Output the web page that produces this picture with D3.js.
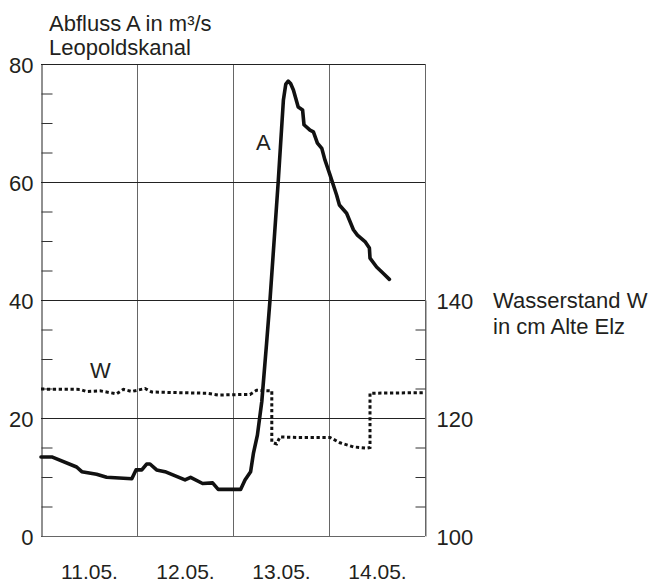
<!DOCTYPE html>
<html>
<head>
<meta charset="utf-8">
<script src="https://cdn.jsdelivr.net/npm/d3@7/dist/d3.min.js"></script>
<style>
  html, body { margin: 0; padding: 0; background: #fff; }
  svg text { font-family: "Liberation Sans", Arial, sans-serif; fill: #231f20; }
</style>
</head>
<body>
<svg id="chart" width="651" height="583"></svg>
<script>
// ---- data ----
// time in hours from start of 11.05.
const aHours  = [0, 2.7, 8.9, 10.2, 13.9, 16.4, 22.7, 23.75, 25.2, 26.4, 27.25, 28.9, 31, 36, 37.4, 40.4, 42.9, 44.3, 49.9, 51, 52.4, 53.1, 54.1, 55.2, 56.4, 57.25, 59.3, 60.6, 61.2, 61.8, 62.4, 63.1, 64.3, 65.4, 65.75, 67.25, 68.1, 69.1, 70.2, 71, 72.25, 73.9, 74.6, 76.4, 78.1, 79.1, 81, 82.1, 82.25, 83.9, 85.6, 87.1];
const aValues = [13.4, 13.4, 11.7, 10.9, 10.45, 9.95, 9.7, 11.2, 11.2, 12.2, 12.2, 11.2, 10.9, 9.5, 9.95, 8.9, 9.0, 7.9, 7.9, 9.5, 10.9, 14.0, 17.1, 22.8, 32.7, 40, 60, 73.9, 76.6, 77.1, 76.7, 75.6, 72.7, 72.2, 69.7, 68.8, 68.5, 66.6, 65.7, 63.7, 61.2, 57.8, 56.1, 54.7, 51.9, 51.0, 49.9, 48.8, 47.1, 45.6, 44.5, 43.5];

const wHours  = [0, 9.75, 11.4, 14.75, 18.9, 20.6, 22.7, 26, 27.7, 41.4, 44.3, 52.25, 53.9, 57.7, 57.7, 58.9, 59.75, 63.9, 72.25, 74.75, 78.1, 81.4, 82.25, 82.25, 96];
const wValues = [124.9, 124.85, 124.5, 124.6, 124.1, 124.85, 124.5, 125, 124.4, 124.2, 123.9, 124.0, 124.7, 124.6, 115.9, 115.6, 116.8, 116.7, 116.7, 115.8, 115.1, 114.9, 115.0, 124.2, 124.3];

const dateLabels   = ["11.05.", "12.05.", "13.05.", "14.05."];
const dateCenters  = [12, 36, 60, 84];
const dayLines     = [24, 48, 72];
const leftTicks    = [0, 20, 40, 60, 80];
const leftMinor    = [5, 10, 15, 25, 30, 35, 45, 50, 55, 65, 70, 75];
const rightTicks   = [100, 120, 140];
const rightMinor   = [105, 110, 115, 125, 130, 135];
const hGrid        = [20, 40, 60];

// ---- layout ----
const L = 41, R = 425, T = 64, B = 536;
const FS = 22;
const svg = d3.select("#chart");

const x  = d3.scaleLinear().domain([0, 96]).range([L, R]);
const yA = d3.scaleLinear().domain([0, 80]).range([B, T]);
const yW = d3.scaleLinear().domain([100, 140]).range([B, yA(40)]);

// gridlines
svg.append("g").selectAll("line").data(dayLines).join("line")
  .attr("x1", d => Math.round(x(d)) + 0.5).attr("x2", d => Math.round(x(d)) + 0.5)
  .attr("y1", T).attr("y2", B)
  .attr("stroke", "#666").attr("stroke-width", 1);

svg.append("g").selectAll("line").data(hGrid).join("line")
  .attr("x1", L).attr("x2", R)
  .attr("y1", d => Math.round(yA(d)) + 0.5).attr("y2", d => Math.round(yA(d)) + 0.5)
  .attr("stroke", "#222").attr("stroke-width", 1);

// border
svg.append("line").attr("x1", L).attr("x2", R).attr("y1", T + 0.5).attr("y2", T + 0.5).attr("stroke", "#222");
svg.append("line").attr("x1", L).attr("x2", R).attr("y1", B + 0.5).attr("y2", B + 0.5).attr("stroke", "#666");
svg.append("line").attr("x1", R + 0.5).attr("x2", R + 0.5).attr("y1", T).attr("y2", B).attr("stroke", "#666");

// left axis
const gL = svg.append("g").attr("transform", `translate(${L + 0.5},0)`)
  .call(d3.axisLeft(yA).tickValues(leftTicks).tickSize(0).tickPadding(8).tickFormat(d3.format("d")));
gL.select(".domain").attr("stroke", "#222");
gL.selectAll("text").attr("font-size", FS).attr("dy", "0.37em")
  .style("font-family", "'Liberation Sans', Arial, sans-serif").attr("fill", "#231f20");

const gLm = svg.append("g").attr("transform", `translate(${L + 0.5},0)`)
  .call(d3.axisRight(yA).tickValues(leftMinor).tickSize(11).tickFormat(""));
gLm.select(".domain").remove();
gLm.selectAll("line").attr("stroke", "#333");

// right axis
const gR = svg.append("g").attr("transform", `translate(${R + 0.5},0)`)
  .call(d3.axisRight(yW).tickValues(rightTicks).tickSize(0).tickPadding(11).tickFormat(d3.format("d")));
gR.select(".domain").attr("stroke", "#666");
gR.selectAll("text").attr("font-size", FS).attr("dy", "0.37em")
  .style("font-family", "'Liberation Sans', Arial, sans-serif").attr("fill", "#231f20");

const gRm = svg.append("g").attr("transform", `translate(${R + 0.5},0)`)
  .call(d3.axisLeft(yW).tickValues(rightMinor).tickSize(10).tickFormat(""));
gRm.select(".domain").remove();
gRm.selectAll("line").attr("stroke", "#333");

// bottom date labels
const gB = svg.append("g").attr("transform", `translate(0,${B})`)
  .call(d3.axisBottom(x).tickValues(dateCenters).tickSize(0).tickPadding(28)
    .tickFormat((d, i) => dateLabels[i]));
gB.select(".domain").remove();
gB.selectAll("text").attr("font-size", 21)
  .style("font-family", "'Liberation Sans', Arial, sans-serif").attr("fill", "#231f20");

// lines
const lineA = d3.line().x((d, i) => x(aHours[i])).y(d => yA(d)).curve(d3.curveLinear);
svg.append("path").datum(aValues).attr("d", lineA)
  .attr("fill", "none").attr("stroke", "#111").attr("stroke-width", 3.6)
  .attr("stroke-linejoin", "round").attr("stroke-linecap", "round");

const lineW = d3.line().x((d, i) => x(wHours[i])).y(d => yW(d));
svg.append("path").datum(wValues).attr("d", lineW)
  .attr("fill", "none").attr("stroke", "#111").attr("stroke-width", 3)
  .attr("stroke-dasharray", "3.3,2.6");

// texts
svg.append("text").attr("x", 49).attr("y", 31).attr("font-size", FS).text("Abfluss A in m³/s");
svg.append("text").attr("x", 49).attr("y", 55).attr("font-size", FS).text("Leopoldskanal");
svg.append("text").attr("x", 493).attr("y", 308).attr("font-size", FS).text("Wasserstand W");
svg.append("text").attr("x", 493).attr("y", 334).attr("font-size", FS).text("in cm Alte Elz");
svg.append("text").attr("x", 256).attr("y", 150).attr("font-size", FS).text("A");
svg.append("text").attr("x", 90).attr("y", 378).attr("font-size", FS).text("W");
</script>
</body>
</html>
